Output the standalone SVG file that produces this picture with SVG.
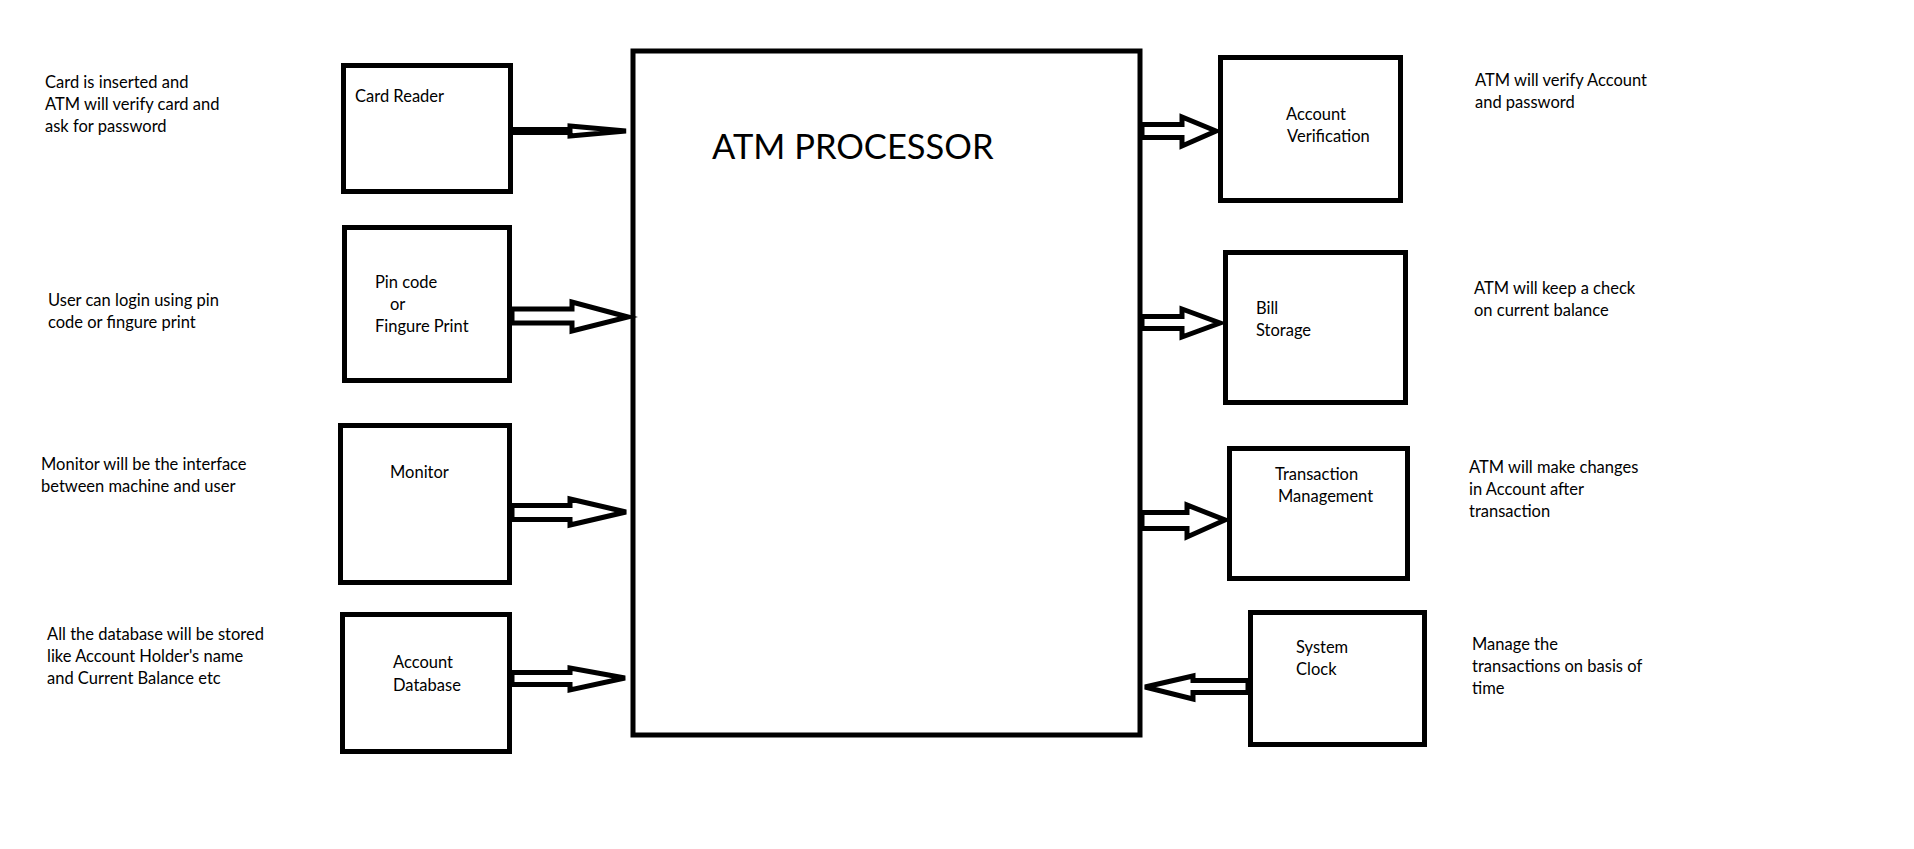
<svg xmlns="http://www.w3.org/2000/svg" width="1914" height="849" viewBox="0 0 1914 849">
<style>
.box{fill:#fff;stroke:#000;stroke-width:5}
.arr{fill:#fff;stroke:#000;stroke-width:5;stroke-linejoin:miter}
text{font-family:Lato,"Liberation Sans",sans-serif;font-size:16.5px;fill:#000}
.title{font-size:34.5px}
</style>
<rect width="1914" height="849" fill="#fff"/>
<g id="notes">
<text x="45" y="88">Card is inserted and</text>
<text x="45" y="110">ATM will verify card and</text>
<text x="45" y="132">ask for password</text>
<text x="48" y="306">User can login using pin</text>
<text x="48" y="328">code or fingure print</text>
<text x="41" y="470">Monitor will be the interface</text>
<text x="41" y="492">between machine and user</text>
<text x="47" y="640">All the database will be stored</text>
<text x="47" y="662">like Account Holder's name</text>
<text x="47" y="684">and Current Balance etc</text>
<text x="1475" y="86">ATM will verify Account</text>
<text x="1475" y="108">and password</text>
<text x="1474" y="294">ATM will keep a check</text>
<text x="1474" y="316">on current balance</text>
<text x="1469" y="473">ATM will make changes</text>
<text x="1469" y="495">in Account after</text>
<text x="1469" y="517">transaction</text>
<text x="1472" y="650">Manage the</text>
<text x="1472" y="672">transactions on basis of</text>
<text x="1472" y="694">time</text>
</g>
<g id="atm-processor">
<rect class="box" x="633" y="51" width="507" height="684"/>
<text class="title" x="712" y="159">ATM PROCESSOR</text>
</g>
<g id="card-reader">
<rect class="box" x="343.5" y="65.5" width="167" height="126"/>
<text x="355" y="102">Card Reader</text>
</g>
<g id="pin-code">
<rect class="box" x="344.5" y="227.5" width="165" height="153"/>
<text x="375" y="288">Pin code</text>
<text x="390" y="310">or</text>
<text x="375" y="332">Fingure Print</text>
</g>
<g id="monitor">
<rect class="box" x="340.5" y="425.5" width="169" height="157"/>
<text x="390" y="478">Monitor</text>
</g>
<g id="account-database">
<rect class="box" x="342.5" y="614.5" width="167" height="137"/>
<text x="393" y="668">Account</text>
<text x="393" y="691">Database</text>
</g>
<g id="account-verification">
<rect class="box" x="1220.5" y="57.5" width="180" height="143"/>
<text x="1286" y="120">Account</text>
<text x="1287" y="142">Verification</text>
</g>
<g id="bill-storage">
<rect class="box" x="1225.5" y="252.5" width="180" height="150"/>
<text x="1256" y="314">Bill</text>
<text x="1256" y="336">Storage</text>
</g>
<g id="transaction-management">
<rect class="box" x="1229.5" y="448.5" width="178" height="130"/>
<text x="1275" y="480">Transaction</text>
<text x="1278" y="502">Management</text>
</g>
<g id="system-clock">
<rect class="box" x="1250.5" y="612.5" width="174" height="132"/>
<text x="1296" y="653">System</text>
<text x="1296" y="675">Clock</text>
</g>
<g id="connectors">
<polygon class="arr" points="512,129.5 570,129.5 570,126 626,131 570,136 570,132.5 512,132.5"/>
<polygon class="arr" points="512,309 572,309 572,302 628,317 572,331 572,323 512,323"/>
<polygon class="arr" points="512,505.5 570,505.5 570,499 626,512 570,525 570,519.5 512,519.5"/>
<polygon class="arr" points="512,672.5 570,672.5 570,668 625,678 570,690 570,684.5 512,684.5"/>
<polygon class="arr" points="1142,124.5 1182,124.5 1182,117 1216,131 1182,146 1182,137.5 1142,137.5"/>
<polygon class="arr" points="1142,316.5 1182,316.5 1182,309 1220,323 1182,337 1182,328.5 1142,328.5"/>
<polygon class="arr" points="1142,512.5 1187,512.5 1187,505 1225,520 1187,537 1187,528.5 1142,528.5"/>
<polygon class="arr" points="1248,680.5 1193,680.5 1193,676 1145,687 1193,699 1193,692.5 1248,692.5"/>
</g>
</svg>
